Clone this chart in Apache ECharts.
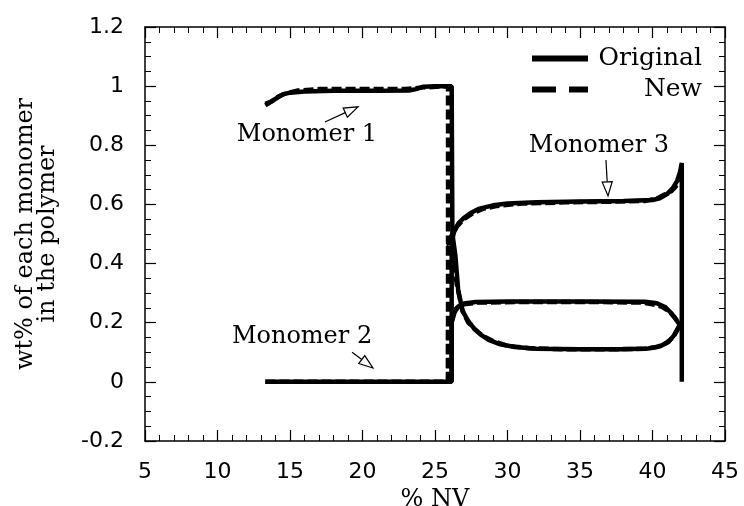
<!DOCTYPE html>
<html><head><meta charset="utf-8">
<script src="https://cdn.jsdelivr.net/npm/echarts@6/dist/echarts.min.js"></script>
<style>html,body{margin:0;padding:0;background:#fff}#c{width:744px;height:506px}</style>
</head><body><div id="c"></div>
<script>
// ---- axis ranges / ticks ----
const xRange = [5, 45];
const xStep = 5;
const yRange = [-0.2, 1.2];
const yStep = 0.2;

// ---- series data: [%NV, wt fraction] ----
const m1Original = [[13.3,0.94],[13.7,0.948],[14.1,0.96],[14.5,0.972],[15,0.978],[16,0.982],[18,0.984],[21,0.984],[23.2,0.985],[23.7,0.99],[24.2,0.998],[25,1.0],[26.15,1.0],[26.2,0.5],[26.4,0.43],[26.6,0.31],[26.9,0.24],[27.3,0.205],[27.7,0.18],[28.2,0.158],[28.7,0.142],[29.5,0.127],[30.5,0.118],[32,0.112],[35,0.11],[38,0.11],[39.7,0.113],[40.5,0.12],[41.1,0.135],[41.5,0.158],[41.8,0.185],[42,0.2]];
const m1New = [[13.3,0.935],[13.8,0.95],[14.2,0.965],[14.7,0.975],[15.5,0.985],[17,0.99],[20,0.99],[23,0.99],[24,0.995],[25.9,1.0],[25.9,0.47],[26.2,0.44],[26.5,0.33],[26.9,0.24],[27.3,0.2],[27.8,0.175],[28.3,0.155],[29,0.138],[30,0.122],[31.5,0.114],[34,0.11],[37,0.11],[39.5,0.112],[40.3,0.118],[40.9,0.13],[41.4,0.15],[41.7,0.175],[41.95,0.2]];
const m2Original = [[13.3,0],[26.15,0],[26.15,0.2],[26.35,0.235],[26.6,0.255],[27,0.265],[27.8,0.27],[30,0.272],[35,0.272],[39.5,0.271],[40.3,0.266],[40.9,0.252],[41.3,0.232],[41.6,0.212],[41.85,0.195],[42,0.19]];
const m2New = [[13.3,0],[25.9,0],[25.9,0.19],[26.2,0.23],[26.5,0.25],[27,0.262],[28,0.268],[31,0.27],[36,0.27],[39.3,0.268],[40,0.262],[40.6,0.255],[41.1,0.24],[41.5,0.22],[41.8,0.2],[42,0.19]];
const m3Original = [[26.15,0],[26.15,0.47],[26.3,0.505],[26.6,0.535],[27,0.555],[27.5,0.572],[28,0.585],[29,0.597],[30,0.603],[32,0.607],[35,0.61],[38,0.612],[40,0.615],[40.5,0.621],[41,0.635],[41.4,0.655],[41.7,0.68],[41.9,0.71],[42.02,0.74],[42.02,0]];
const m3New = [[25.9,0],[25.9,0.46],[26.1,0.49],[26.5,0.525],[27,0.55],[27.6,0.57],[28.3,0.585],[29.3,0.595],[31,0.603],[34,0.607],[37,0.609],[39.5,0.612],[40.3,0.62],[40.9,0.635],[41.3,0.645],[41.6,0.66],[41.85,0.69],[42,0.72]];

// ---- annotations (data coordinates) ----
const annotationTexts = ['Monomer 1', 'Monomer 2', 'Monomer 3'];
const annotationTextPos = [[16.17,0.835],[15.83,0.152],[36.31,0.80]];
const arrowTails = [[17.41,0.879],[19.28,0.10],[36.79,0.75]];
const arrowHeads = [[19.69,0.93],[20.72,0.047],[36.93,0.629]];

const legendNames = ['Original', 'New'];

const SERIF = '"DejaVu Serif", serif';
const SANS = '"DejaVu Sans", sans-serif';
const solid = { color: '#000', width: 4.5, type: 'solid' };
const dashed = { color: '#000', width: 4.5, type: [10, 4] };

function mk(name, data, ls) {
  return { name, type: 'line', data, symbol: 'none', showSymbol: false, lineStyle: ls, itemStyle: { color: '#000' }, animation: false, z: 3, silent: true };
}

const chart = echarts.init(document.getElementById('c'), null, { renderer: 'canvas' });

const axisCommon = {
  axisLine: { show: true, onZero: false, lineStyle: { color: '#000', width: 1.5 } },
  axisTick: { show: true, inside: true, length: 11, lineStyle: { color: '#000', width: 1.2 } },
  minorTick: { show: true, length: 6, lineStyle: { color: '#000', width: 1 } },
  splitLine: { show: false },
};

chart.setOption({
  backgroundColor: '#fff',
  animation: false,
  grid: { left: 145, right: 19, top: 27, bottom: 65, containLabel: false, outerBoundsMode: 'none' },
  legend: {
    data: [
      { name: legendNames[0], icon: 'path://M0 0H56V6H0Z' },
      { name: legendNames[1], icon: 'path://M0 0H24V6H0Z M37 0H56V6H37Z' }
    ],
    orient: 'vertical', left: 527, top: 41, itemWidth: 56, itemHeight: 6, itemGap: 6,
    selectedMode: false,
    formatter: '{r|{name}}',
    textStyle: { rich: { r: { width: 109, align: 'right', fontFamily: SERIF, fontSize: 25, lineHeight: 28, color: '#000' } } }
  },
  xAxis: [
    Object.assign({}, axisCommon, {
      type: 'value', position: 'bottom', min: xRange[0], max: xRange[1], interval: xStep,
      minorTick: Object.assign({}, axisCommon.minorTick, { splitNumber: 5 }),
      axisLabel: { show: true, margin: 20, fontFamily: SANS, fontSize: 22, color: '#000' },
      name: '% NV', nameLocation: 'middle', nameGap: 44,
      nameTextStyle: { fontFamily: SERIF, fontSize: 24, color: '#000' }
    }),
    Object.assign({}, axisCommon, {
      type: 'value', position: 'top', min: xRange[0], max: xRange[1], interval: xStep,
      minorTick: Object.assign({}, axisCommon.minorTick, { splitNumber: 5 }),
      axisLabel: { show: false }
    })
  ],
  yAxis: [
    Object.assign({}, axisCommon, {
      type: 'value', position: 'left', min: yRange[0], max: yRange[1], interval: yStep,
      minorTick: Object.assign({}, axisCommon.minorTick, { splitNumber: 4 }),
      axisLabel: { show: true, margin: 21, fontFamily: SANS, fontSize: 22, color: '#000',
        formatter: v => String(Math.round(v * 10) / 10) },
      name: 'wt% of each monomer\nin the polymer', nameLocation: 'middle', nameRotate: 90, nameGap: 86,
      nameTextStyle: { fontFamily: SERIF, fontSize: 24, color: '#000', lineHeight: 22, align: 'center' }
    }),
    Object.assign({}, axisCommon, {
      type: 'value', position: 'right', min: yRange[0], max: yRange[1], interval: yStep,
      minorTick: Object.assign({}, axisCommon.minorTick, { splitNumber: 4 }),
      axisLabel: { show: false }
    })
  ],
  series: [
    mk('Original', m1Original, solid),
    mk('New', m1New, dashed),
    mk('Original', m2Original, solid),
    mk('New', m2New, dashed),
    mk('Original', m3Original, solid),
    mk('New', m3New, dashed)
  ]
});

// annotations with arrows, positioned through the chart's coordinate system
const graphics = [];
annotationTexts.forEach((t, i) => {
  const p = chart.convertToPixel({ xAxisIndex: 0, yAxisIndex: 0 }, annotationTextPos[i]);
  graphics.push({ type: 'text', x: p[0], y: p[1], silent: true, z: 10,
    style: { text: t, font: '24px ' + SERIF, fill: '#000', align: 'center', verticalAlign: 'middle' } });
  const a = chart.convertToPixel({ xAxisIndex: 0, yAxisIndex: 0 }, arrowTails[i]);
  const h = chart.convertToPixel({ xAxisIndex: 0, yAxisIndex: 0 }, arrowHeads[i]);
  const dx = h[0] - a[0], dy = h[1] - a[1];
  const len = Math.sqrt(dx * dx + dy * dy);
  const ux = dx / len, uy = dy / len, nx = -uy, ny = ux;
  const L = 14, W = 5;
  const bx = h[0] - ux * L, by = h[1] - uy * L;
  graphics.push({ type: 'line', silent: true, z: 10,
    shape: { x1: a[0], y1: a[1], x2: bx, y2: by }, style: { stroke: '#000', lineWidth: 1.2 } });
  graphics.push({ type: 'polygon', silent: true, z: 10,
    shape: { points: [[h[0], h[1]], [bx + nx * W, by + ny * W], [bx - nx * W, by - ny * W]] },
    style: { fill: '#fff', stroke: '#000', lineWidth: 1.2 } });
});
chart.setOption({ graphic: graphics });
</script>
</body></html>
